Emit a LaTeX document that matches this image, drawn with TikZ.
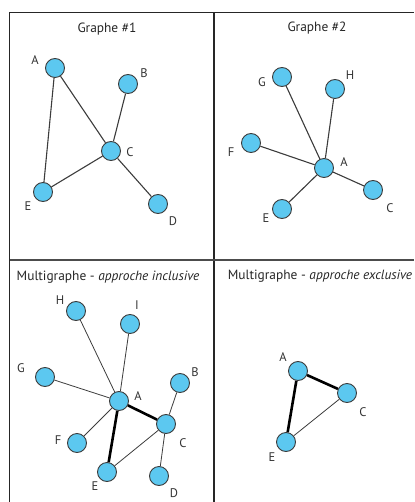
\documentclass[tikz,border=0pt]{standalone}
\usepackage{fontspec}
\setmainfont{PT Sans}
\usetikzlibrary{positioning}

\definecolor{bleu}{RGB}{92,200,240}
\definecolor{trait}{RGB}{60,60,60}

\begin{document}
\begin{tikzpicture}[
    x=1pt, y=-1pt,
    sommet/.style={draw=trait, circle, fill=bleu, minimum size=19pt, inner sep=0pt, line width=0.9pt},
    lbl/.style={inner sep=0pt, font=\fontsize{12.5}{14}\selectfont, text=black!80},
    titre/.style={inner sep=0pt, font=\fontsize{13.4}{15}\selectfont, text=black!85},
    arete/.style={draw=trait, line width=1.1pt},
    fine/.style={draw=trait, line width=0.8pt},
    double/.style={draw=black, line width=2.6pt}
]
\useasboundingbox (0,0) rectangle (414,502);

% Cadre
\draw[line width=1.2pt, black!85] (9.5,502) -- (9.5,12.5) -- (414,12.5);
\draw[line width=1.2pt, black!85] (214,12.5) -- (214,502);
\draw[line width=1.2pt, black!70] (9.5,260) -- (414,260);

% Graphe #1
\node[titre] (t1) at (107,29) {Graphe \#1};
\node[sommet] (a1) at (55,68) {};
\node[sommet] (b1) at (128,84) {};
\node[sommet] (c1) at (111,151) {};
\node[sommet] (e1) at (43,192) {};
\node[sommet] (d1) at (158,204) {};
\node[lbl] (la1) at (35,60) {A};
\node[lbl] (lb1) at (144,73) {B};
\node[lbl] (lc1) at (130,152) {C};
\node[lbl] (le1) at (28,206) {E};
\node[lbl] (ld1) at (173,221) {D};

\draw[arete] (a1) -- (e1);
\draw[arete] (a1) -- (c1);
\draw[arete] (b1) -- (c1);
\draw[arete] (c1) -- (e1);
\draw[arete] (c1) -- (d1);

% Graphe #2
\node[titre] (t2) at (317,28) {Graphe \#2};
\node[sommet] (g2) at (282,77) {};
\node[sommet] (h2) at (335,89) {};
\node[sommet] (f2) at (251,143) {};
\node[sommet] (a2) at (324,168) {};
\node[sommet] (c2) at (373,190) {};
\node[sommet] (e2) at (282,209) {};
\node[lbl] (lg2) at (262,82) {G};
\node[lbl] (lh2) at (350,75) {H};
\node[lbl] (lf2) at (231,152) {F};
\node[lbl] (la2) at (344,162) {A};
\node[lbl] (lc2) at (390,208) {C};
\node[lbl] (le2) at (266,218) {E};

\foreach \v in {g2,h2,f2,c2,e2}
    \draw[arete] (a2) -- (\v);

% Multigraphe - approche inclusive
\node[titre] (t3) at (108,277) {Multigraphe - \textit{approche inclusive}};
\node[sommet] (h3) at (76,311) {};
\node[sommet] (i3) at (130,324) {};
\node[sommet] (g3) at (45,377) {};
\node[sommet] (b3) at (180,383) {};
\node[sommet] (a3) at (119,401) {};
\node[sommet] (c3) at (166,424) {};
\node[sommet] (f3) at (77,443) {};
\node[sommet] (e3) at (107,472) {};
\node[sommet] (d3) at (159,476) {};
\node[lbl] (lh3) at (60,300) {H};
\node[lbl] (li3) at (137,305) {I};
\node[lbl] (lg3) at (21,368) {G};
\node[lbl] (lb3) at (195,372) {B};
\node[lbl] (la3) at (138,396) {A};
\node[lbl] (lc3) at (183,443) {C};
\node[lbl] (lf3) at (58,440) {F};
\node[lbl] (le3) at (95,486) {E};
\node[lbl] (ld3) at (174,493) {D};

\foreach \v in {h3,i3,g3,f3}
    \draw[fine] (a3) -- (\v);
\foreach \v in {b3,d3,e3}
    \draw[fine] (c3) -- (\v);
\draw[double] (a3) -- (c3);
\draw[double] (a3) -- (e3);

% Multigraphe - approche exclusive
\node[titre] (t4) at (320,276) {Multigraphe - \textit{approche exclusive}};
\node[sommet] (a4) at (298,371) {};
\node[sommet] (c4) at (347,393) {};
\node[sommet] (e4) at (286,442) {};
\node[lbl] (la4) at (283,357) {A};
\node[lbl] (lc4) at (363,412) {C};
\node[lbl] (le4) at (272,457) {E};

\draw[double] (a4) -- (c4);
\draw[double] (a4) -- (e4);
\draw[fine] (c4) -- (e4);

\end{tikzpicture}
\end{document}
